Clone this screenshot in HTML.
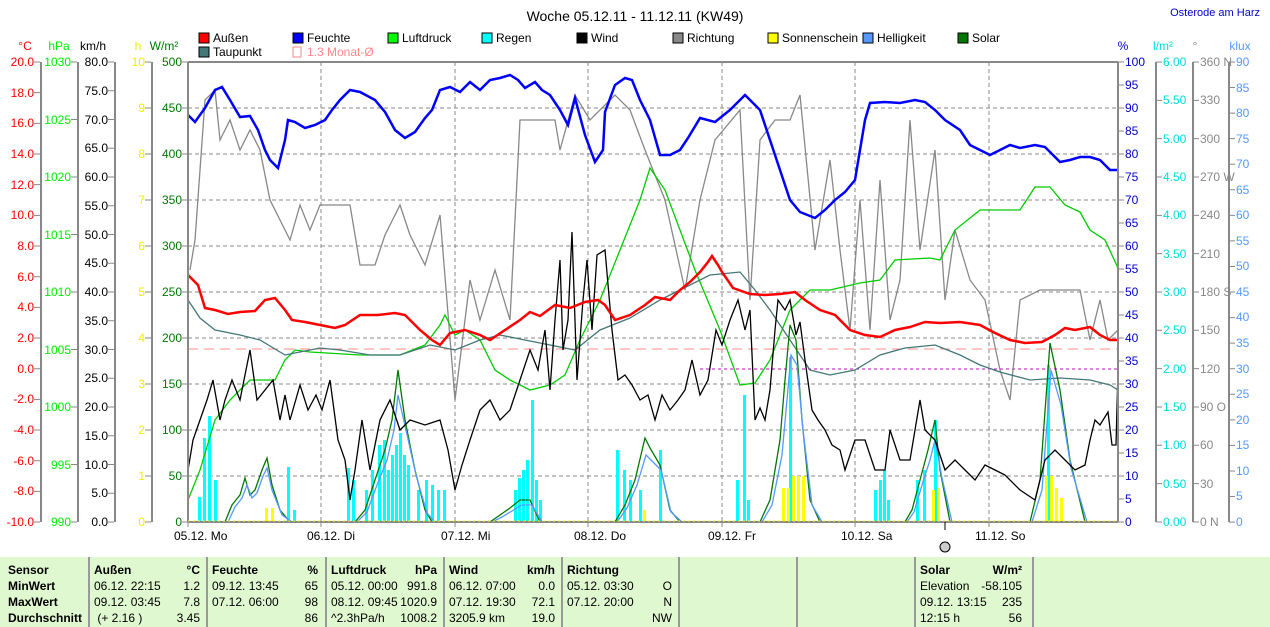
<!DOCTYPE html>
<html><head><meta charset="utf-8"><style>
body{margin:0;width:1270px;height:627px;background:#fff;overflow:hidden;font-family:"Liberation Sans",sans-serif;}
svg text{font-family:"Liberation Sans",sans-serif;}
.tb{position:absolute;left:0;top:557px;width:1270px;height:70px;background:#e0f8d0;font-size:12px;}
.c{position:absolute;top:0;height:70px;border-left:2px solid #999;}
.r{position:absolute;white-space:nowrap;}
</style></head><body>
<svg width="1270" height="557" style="position:absolute;left:0;top:0">
<text x="635" y="21" font-size="14" text-anchor="middle">Woche 05.12.11 - 11.12.11 (KW49)</text>
<text x="1260" y="16" font-size="11" fill="#00c" text-anchor="end">Osterode am Harz</text>
<g font-size="12">
<rect x="199" y="33" width="10" height="10" fill="#f00" stroke="#000"/><text x="213" y="42">Außen</text>
<rect x="293" y="33" width="10" height="10" fill="#00f" stroke="#000"/><text x="307" y="42">Feuchte</text>
<rect x="388" y="33" width="10" height="10" fill="#0f0" stroke="#000"/><text x="402" y="42">Luftdruck</text>
<rect x="482" y="33" width="10" height="10" fill="#0ff" stroke="#000"/><text x="496" y="42">Regen</text>
<rect x="577" y="33" width="10" height="10" fill="#000" stroke="#000"/><text x="591" y="42">Wind</text>
<rect x="673" y="33" width="10" height="10" fill="#888" stroke="#000"/><text x="687" y="42">Richtung</text>
<rect x="768" y="33" width="10" height="10" fill="#ff0" stroke="#000"/><text x="782" y="42">Sonnenschein</text>
<rect x="863" y="33" width="10" height="10" fill="#59f" stroke="#000"/><text x="877" y="42">Helligkeit</text>
<rect x="958" y="33" width="10" height="10" fill="#070" stroke="#000"/><text x="972" y="42">Solar</text>
<rect x="199" y="47" width="10" height="10" fill="#477" stroke="#000"/><text x="213" y="56">Taupunkt</text>
<rect x="293" y="47" width="8" height="10" fill="none" stroke="#f88"/><text x="307" y="56" fill="#f88">1.3 Monat-Ø</text>
</g>
<g font-size="12" text-anchor="middle">
<text x="25" y="50" fill="#f00">°C</text><text x="59" y="50" fill="#0e0">hPa</text><text x="93" y="50" fill="#000">km/h</text>
<text x="138" y="50" fill="#ee0">h</text><text x="164" y="50" fill="#070">W/m²</text>
<text x="1123" y="50" fill="#00c">%</text><text x="1163" y="50" fill="#0dd">l/m²</text><text x="1195" y="50" fill="#888">°</text><text x="1240" y="50" fill="#59f">klux</text>
</g>
<g stroke="#888" stroke-width="2"><line x1="41" y1="62" x2="41" y2="522"/><line x1="78" y1="62" x2="78" y2="522"/><line x1="115" y1="62" x2="115" y2="522"/><line x1="152" y1="62" x2="152" y2="522"/><line x1="1156" y1="62" x2="1156" y2="522"/><line x1="1193" y1="62" x2="1193" y2="522"/><line x1="1229" y1="62" x2="1229" y2="522"/></g>
<g stroke="#888" stroke-width="6">
<line x1="37" y1="61.5" x2="37" y2="523" stroke-dasharray="1 29.67"/>
<line x1="74" y1="61.5" x2="74" y2="523" stroke-dasharray="1 56.5"/>
<line x1="111" y1="61.5" x2="111" y2="523" stroke-dasharray="1 27.75"/>
<line x1="148" y1="61.5" x2="148" y2="523" stroke-dasharray="1 45"/>
<line x1="185" y1="61.5" x2="185" y2="523" stroke-dasharray="1 45"/>
<line x1="1121" y1="61.5" x2="1121" y2="523" stroke-dasharray="1 22"/>
<line x1="1159" y1="61.5" x2="1159" y2="523" stroke-dasharray="1 37.33"/>
<line x1="1196" y1="61.5" x2="1196" y2="523" stroke-dasharray="1 37.33"/>
<line x1="1232" y1="61.5" x2="1232" y2="523" stroke-dasharray="1 24.56"/>
</g>
<g font-size="12">
<g fill="#f00" text-anchor="end"><text x="34" y="66">20.0</text><text x="34" y="97">18.0</text><text x="34" y="127">16.0</text><text x="34" y="158">14.0</text><text x="34" y="189">12.0</text><text x="34" y="219">10.0</text><text x="34" y="250">8.0</text><text x="34" y="281">6.0</text><text x="34" y="311">4.0</text><text x="34" y="342">2.0</text><text x="34" y="373">0.0</text><text x="34" y="403">-2.0</text><text x="34" y="434">-4.0</text><text x="34" y="465">-6.0</text><text x="34" y="495">-8.0</text><text x="34" y="526">-10.0</text></g>
<g fill="#0e0" text-anchor="end"><text x="71" y="66">1030</text><text x="71" y="124">1025</text><text x="71" y="181">1020</text><text x="71" y="239">1015</text><text x="71" y="296">1010</text><text x="71" y="354">1005</text><text x="71" y="411">1000</text><text x="71" y="469">995</text><text x="71" y="526">990</text></g>
<g fill="#000" text-anchor="end"><text x="108" y="66">80.0</text><text x="108" y="95">75.0</text><text x="108" y="124">70.0</text><text x="108" y="152">65.0</text><text x="108" y="181">60.0</text><text x="108" y="210">55.0</text><text x="108" y="239">50.0</text><text x="108" y="267">45.0</text><text x="108" y="296">40.0</text><text x="108" y="325">35.0</text><text x="108" y="354">30.0</text><text x="108" y="382">25.0</text><text x="108" y="411">20.0</text><text x="108" y="440">15.0</text><text x="108" y="469">10.0</text><text x="108" y="497">5.0</text><text x="108" y="526">0.0</text></g>
<g fill="#ee0" text-anchor="end"><text x="145" y="66">10</text><text x="145" y="112">9</text><text x="145" y="158">8</text><text x="145" y="204">7</text><text x="145" y="250">6</text><text x="145" y="296">5</text><text x="145" y="342">4</text><text x="145" y="388">3</text><text x="145" y="434">2</text><text x="145" y="480">1</text><text x="145" y="526">0</text></g>
<g fill="#070" text-anchor="end"><text x="182" y="66">500</text><text x="182" y="112">450</text><text x="182" y="158">400</text><text x="182" y="204">350</text><text x="182" y="250">300</text><text x="182" y="296">250</text><text x="182" y="342">200</text><text x="182" y="388">150</text><text x="182" y="434">100</text><text x="182" y="480">50</text><text x="182" y="526">0</text></g>
<g fill="#00c"><text x="1125" y="66">100</text><text x="1125" y="89">95</text><text x="1125" y="112">90</text><text x="1125" y="135">85</text><text x="1125" y="158">80</text><text x="1125" y="181">75</text><text x="1125" y="204">70</text><text x="1125" y="227">65</text><text x="1125" y="250">60</text><text x="1125" y="273">55</text><text x="1125" y="296">50</text><text x="1125" y="319">45</text><text x="1125" y="342">40</text><text x="1125" y="365">35</text><text x="1125" y="388">30</text><text x="1125" y="411">25</text><text x="1125" y="434">20</text><text x="1125" y="457">15</text><text x="1125" y="480">10</text><text x="1125" y="503">5</text><text x="1125" y="526">0</text></g>
<g fill="#0dd"><text x="1163" y="66">6.00</text><text x="1163" y="104">5.50</text><text x="1163" y="143">5.00</text><text x="1163" y="181">4.50</text><text x="1163" y="219">4.00</text><text x="1163" y="258">3.50</text><text x="1163" y="296">3.00</text><text x="1163" y="334">2.50</text><text x="1163" y="373">2.00</text><text x="1163" y="411">1.50</text><text x="1163" y="449">1.00</text><text x="1163" y="488">0.50</text><text x="1163" y="526">0.00</text></g>
<g fill="#888"><text x="1200" y="66">360 N</text><text x="1200" y="104">330</text><text x="1200" y="143">300</text><text x="1200" y="181">270 W</text><text x="1200" y="219">240</text><text x="1200" y="258">210</text><text x="1200" y="296">180 S</text><text x="1200" y="334">150</text><text x="1200" y="373">120</text><text x="1200" y="411">90 O</text><text x="1200" y="449">60</text><text x="1200" y="488">30</text><text x="1200" y="526">0 N</text></g>
<g fill="#59f"><text x="1236" y="66">90</text><text x="1236" y="92">85</text><text x="1236" y="117">80</text><text x="1236" y="143">75</text><text x="1236" y="168">70</text><text x="1236" y="194">65</text><text x="1236" y="219">60</text><text x="1236" y="245">55</text><text x="1236" y="270">50</text><text x="1236" y="296">45</text><text x="1236" y="321">40</text><text x="1236" y="347">35</text><text x="1236" y="373">30</text><text x="1236" y="398">25</text><text x="1236" y="424">20</text><text x="1236" y="449">15</text><text x="1236" y="475">10</text><text x="1236" y="500">5</text><text x="1236" y="526">0</text></g>
</g>
<g stroke="#888" stroke-dasharray="4,3" stroke-width="1">
<line x1="188" y1="108" x2="1118" y2="108"/><line x1="188" y1="154" x2="1118" y2="154"/><line x1="188" y1="200" x2="1118" y2="200"/><line x1="188" y1="246" x2="1118" y2="246"/><line x1="188" y1="292" x2="1118" y2="292"/><line x1="188" y1="338" x2="1118" y2="338"/><line x1="188" y1="384" x2="1118" y2="384"/><line x1="188" y1="430" x2="1118" y2="430"/><line x1="188" y1="476" x2="1118" y2="476"/>
<line x1="321" y1="62" x2="321" y2="522"/><line x1="455" y1="62" x2="455" y2="522"/><line x1="588" y1="62" x2="588" y2="522"/><line x1="722" y1="62" x2="722" y2="522"/><line x1="855" y1="62" x2="855" y2="522"/><line x1="989" y1="62" x2="989" y2="522"/>
</g>
<line x1="188" y1="349" x2="1118" y2="349" stroke="#f88" stroke-dasharray="10,6"/>
<line x1="700" y1="369" x2="1118" y2="369" stroke="#c0c" stroke-dasharray="3,3"/>
<g fill="#0ff">
<rect x="198" y="497" width="3" height="25"/><rect x="203" y="438" width="3" height="84"/><rect x="208" y="416" width="3" height="106"/><rect x="214" y="480" width="3" height="42"/><rect x="287" y="467" width="3" height="55"/><rect x="293" y="510" width="3" height="12"/><rect x="347" y="468" width="3" height="54"/><rect x="352" y="480" width="3" height="42"/><rect x="365" y="490" width="3" height="32"/><rect x="371" y="470" width="3" height="52"/><rect x="378" y="445" width="3" height="77"/><rect x="383" y="440" width="3" height="82"/><rect x="387" y="470" width="3" height="52"/><rect x="391" y="455" width="3" height="67"/><rect x="395" y="445" width="3" height="77"/><rect x="399" y="433" width="3" height="89"/><rect x="403" y="455" width="3" height="67"/><rect x="407" y="465" width="3" height="57"/><rect x="417" y="490" width="3" height="32"/><rect x="425" y="480" width="3" height="42"/><rect x="431" y="485" width="3" height="37"/><rect x="437" y="490" width="3" height="32"/><rect x="443" y="490" width="3" height="32"/><rect x="514" y="490" width="3" height="32"/><rect x="518" y="478" width="3" height="44"/><rect x="522" y="470" width="3" height="52"/><rect x="526" y="460" width="3" height="62"/><rect x="531" y="400" width="3" height="122"/><rect x="535" y="480" width="3" height="42"/><rect x="539" y="500" width="3" height="22"/><rect x="616" y="450" width="3" height="72"/><rect x="623" y="470" width="3" height="52"/><rect x="629" y="480" width="3" height="42"/><rect x="639" y="490" width="3" height="32"/><rect x="659" y="450" width="3" height="72"/><rect x="736" y="480" width="3" height="42"/><rect x="743" y="395" width="3" height="127"/><rect x="747" y="500" width="3" height="22"/><rect x="789" y="357" width="3" height="165"/><rect x="874" y="490" width="3" height="32"/><rect x="879" y="480" width="3" height="42"/><rect x="883" y="470" width="3" height="52"/><rect x="887" y="500" width="3" height="22"/><rect x="916" y="480" width="3" height="42"/><rect x="923" y="470" width="3" height="52"/><rect x="934" y="420" width="3" height="102"/><rect x="1047" y="365" width="3" height="157"/>
</g>
<g fill="#ff0">
<rect x="265" y="508" width="3" height="14"/><rect x="271" y="508" width="3" height="14"/><rect x="643" y="510" width="3" height="12"/><rect x="782" y="488" width="3" height="34"/><rect x="787" y="488" width="3" height="34"/><rect x="792" y="476" width="3" height="46"/><rect x="797" y="476" width="3" height="46"/><rect x="802" y="476" width="3" height="46"/><rect x="932" y="490" width="3" height="32"/><rect x="937" y="488" width="3" height="34"/><rect x="1045" y="476" width="3" height="46"/><rect x="1050" y="476" width="3" height="46"/><rect x="1055" y="488" width="3" height="34"/><rect x="1060" y="498" width="3" height="24"/>
</g>
<g fill="none">
<polyline stroke="#888" stroke-width="1.3" points="190,270 195,240 205,100 215,90 220,140 230,120 240,150 250,130 260,150 270,200 290,240 300,205 310,230 320,205 350,205 360,265 375,265 385,235 400,205 410,235 425,265 440,215 455,400 470,280 480,320 495,270 510,320 520,120 555,120 560,150 575,95 590,120 615,95 630,110 645,150 665,200 685,290 700,200 715,140 740,110 750,300 760,140 775,120 790,120 800,95 815,250 830,160 840,250 850,330 860,200 870,330 880,180 890,320 900,280 910,120 920,250 935,150 945,300 955,230 970,280 985,300 1000,370 1010,400 1020,300 1040,290 1080,290 1090,340 1100,300 1108,340 1118,330"/>
<polyline stroke="#0c0" stroke-width="1.3" points="188,500 200,470 215,420 230,400 250,380 275,380 285,360 295,350 310,352 360,355 400,355 425,345 440,325 445,315 455,335 465,330 480,340 495,370 510,380 530,390 550,385 565,375 580,340 600,300 620,250 640,200 650,168 665,190 680,230 695,270 720,330 740,385 755,383 770,360 790,310 810,290 830,290 860,283 880,280 895,260 930,258 940,260 955,230 980,210 1020,210 1035,187 1050,187 1065,205 1080,212 1090,230 1105,240 1118,268"/>
<polyline stroke="#477" stroke-width="1.3" points="188,300 200,318 215,330 240,335 260,340 285,355 320,348 340,350 370,355 400,355 430,345 455,350 480,340 500,335 525,340 550,345 575,350 600,330 630,318 660,300 690,285 710,275 740,272 755,290 770,310 790,340 810,370 830,375 855,370 880,355 905,348 935,345 960,355 980,365 1000,372 1030,380 1060,378 1090,380 1110,385 1118,390"/>
<polyline stroke="#070" stroke-width="1.3" points="188,522 225,522 232,505 240,495 245,478 250,495 255,490 262,470 267,458 272,485 280,510 290,522 355,522 365,510 375,480 385,450 392,420 398,370 405,420 415,470 425,510 432,522 490,522 500,515 510,508 520,500 530,500 540,522 615,522 625,505 635,480 645,438 650,448 660,465 670,510 680,522 760,522 770,500 780,440 785,380 790,325 796,340 802,420 810,500 820,522 905,522 912,510 920,480 928,450 935,420 940,470 950,522 1030,522 1040,480 1050,343 1060,390 1070,460 1085,522 1118,522"/>
<polyline stroke="#59f" stroke-width="1.3" points="188,522 228,522 235,507 242,498 247,485 252,498 257,493 263,476 267,468 272,490 282,515 292,522 357,522 367,512 377,485 387,460 394,430 398,395 406,430 416,475 427,513 435,522 492,522 502,517 512,511 522,505 532,505 542,522 617,522 627,508 637,485 646,455 651,460 661,470 671,512 682,522 762,522 772,505 782,455 787,400 791,355 797,365 803,430 812,505 822,522 907,522 914,512 922,485 930,460 935,440 942,478 952,522 1032,522 1042,490 1051,370 1061,405 1071,468 1087,522"/>
<polyline stroke="#000" stroke-width="1.3" points="188,470 193,440 200,420 207,400 213,380 220,420 225,400 232,380 240,400 250,350 257,400 265,390 273,380 280,420 285,395 290,420 300,385 308,410 316,395 322,410 330,380 338,440 345,460 350,500 355,470 362,420 370,470 380,420 390,400 400,430 410,420 425,425 440,420 448,450 455,490 462,465 470,440 480,410 490,400 500,420 510,410 520,380 530,350 538,370 545,330 550,390 555,320 560,260 563,350 568,320 572,232 577,380 583,300 587,260 592,330 597,255 605,250 612,330 618,380 625,375 632,385 640,400 648,395 655,420 662,395 670,410 678,400 685,390 692,360 700,395 708,380 716,330 722,345 730,320 738,300 745,330 750,310 755,420 760,408 765,420 770,390 775,330 778,300 785,310 790,300 796,335 800,322 805,360 812,410 818,420 825,430 832,445 840,450 845,470 855,440 865,440 875,470 885,470 890,430 900,460 910,460 920,400 925,430 935,440 945,470 955,460 965,470 975,480 985,465 995,470 1005,475 1020,490 1035,500 1045,460 1055,450 1065,460 1075,470 1085,465 1090,440 1095,420 1100,425 1108,412 1112,445 1116,445 1118,370"/>
<polyline stroke="#00f" stroke-width="2.5" points="188,115 195,122 205,108 215,90 222,87 230,100 240,117 250,116 258,130 265,150 270,160 278,168 285,140 288,120 295,122 305,128 315,125 325,120 332,110 340,100 350,90 360,92 375,100 385,112 395,130 405,138 415,132 425,118 432,110 440,90 450,87 460,92 470,82 480,90 490,80 500,78 510,75 518,80 525,88 535,82 542,90 550,95 560,110 568,125 575,98 585,135 595,162 603,150 605,112 615,85 625,78 632,80 640,100 650,120 660,155 670,155 680,150 688,138 700,118 715,122 730,110 745,95 752,102 760,110 770,140 780,170 790,200 800,212 815,218 825,210 835,200 845,192 855,180 865,120 870,103 885,102 900,103 915,100 925,102 935,110 945,120 960,130 970,145 980,150 990,155 1000,150 1010,145 1020,148 1035,145 1045,147 1060,162 1070,160 1080,157 1090,157 1100,160 1110,170 1118,170"/>
<polyline stroke="#f00" stroke-width="2.5" points="188,275 198,285 205,308 215,310 228,314 240,312 255,311 265,300 275,298 285,310 292,320 305,322 320,325 335,328 345,325 360,315 378,315 395,313 405,315 420,330 432,340 440,345 450,333 465,330 480,335 490,340 505,330 520,320 530,312 540,316 555,305 570,308 585,302 598,300 605,305 615,320 630,315 645,305 655,297 670,300 680,290 690,282 700,272 708,262 712,256 718,265 722,272 733,288 750,294 765,295 780,294 795,292 805,300 820,310 835,315 850,330 865,335 880,337 895,330 910,327 925,322 940,323 960,322 980,325 995,333 1010,340 1025,343 1042,342 1055,335 1065,328 1075,330 1090,327 1100,335 1110,340 1118,340"/>
</g>
<line x1="188" y1="62" x2="188" y2="522" stroke="#888" stroke-width="2"/>
<line x1="188" y1="62" x2="1118" y2="62" stroke="#888" stroke-width="2"/>
<line x1="1118" y1="62" x2="1118" y2="522" stroke="#888" stroke-width="2"/>
<line x1="188" y1="522" x2="1118" y2="522" stroke="#888" stroke-width="2"/>
<line x1="188" y1="521" x2="1118" y2="521" stroke="#ee0" stroke-dasharray="2,3"/>
<g stroke="#888" stroke-width="1"><line x1="188" y1="522" x2="188" y2="527"/><line x1="321" y1="522" x2="321" y2="527"/><line x1="455" y1="522" x2="455" y2="527"/><line x1="588" y1="522" x2="588" y2="527"/><line x1="722" y1="522" x2="722" y2="527"/><line x1="855" y1="522" x2="855" y2="527"/><line x1="989" y1="522" x2="989" y2="527"/></g>
<g font-size="12"><text x="174" y="540">05.12.  Mo</text><text x="307" y="540">06.12.  Di</text><text x="441" y="540">07.12.  Mi</text><text x="574" y="540">08.12.  Do</text><text x="708" y="540">09.12.  Fr</text><text x="841" y="540">10.12.  Sa</text><text x="975" y="540">11.12.  So</text></g>
<line x1="945" y1="522" x2="945" y2="530" stroke="#000"/>
<circle cx="945" cy="547" r="5" fill="#ccc" stroke="#000"/>
</svg>
<div class="tb">
<div class="c" style="left:88px"></div><div class="c" style="left:206px"></div><div class="c" style="left:325px"></div><div class="c" style="left:443px"></div><div class="c" style="left:561px"></div><div class="c" style="left:678px"></div><div class="c" style="left:796px"></div><div class="c" style="left:914px"></div><div class="c" style="left:1032px"></div>
<div class="r" style="left:8px;top:5px;font-weight:bold;line-height:16px">Sensor<br>MinWert<br>MaxWert<br>Durchschnitt</div>
<div class="r" style="left:94px;top:5px;line-height:16px"><b>Außen</b><br>06.12.  22:15<br>09.12.  03:45<br>&nbsp;(+ 2.16 )</div>
<div class="r" style="left:170px;top:5px;line-height:16px;text-align:right;width:30px"><b>°C</b><br>1.2<br>7.8<br>3.45</div>
<div class="r" style="left:212px;top:5px;line-height:16px"><b>Feuchte</b><br>09.12.  13:45<br>07.12.  06:00</div>
<div class="r" style="left:288px;top:5px;line-height:16px;text-align:right;width:30px"><b>%</b><br>65<br>98<br>86</div>
<div class="r" style="left:331px;top:5px;line-height:16px"><b>Luftdruck</b><br>05.12.  00:00<br>08.12.  09:45<br>^2.3hPa/h</div>
<div class="r" style="left:395px;top:5px;line-height:16px;text-align:right;width:42px"><b>hPa</b><br>991.8<br>1020.9<br>1008.2</div>
<div class="r" style="left:449px;top:5px;line-height:16px"><b>Wind</b><br>06.12.  07:00<br>07.12.  19:30<br>3205.9 km</div>
<div class="r" style="left:515px;top:5px;line-height:16px;text-align:right;width:40px"><b>km/h</b><br>0.0<br>72.1<br>19.0</div>
<div class="r" style="left:567px;top:5px;line-height:16px"><b>Richtung</b><br>05.12.  03:30<br>07.12.  20:00</div>
<div class="r" style="left:640px;top:5px;line-height:16px;text-align:right;width:32px">&nbsp;<br>O<br>N<br>NW</div>
<div class="r" style="left:920px;top:5px;line-height:16px"><b>Solar</b><br>Elevation<br>09.12.  13:15<br>12:15 h</div>
<div class="r" style="left:980px;top:5px;line-height:16px;text-align:right;width:42px"><b>W/m²</b><br>-58.105<br>235<br>56</div>
</div>
</body></html>
